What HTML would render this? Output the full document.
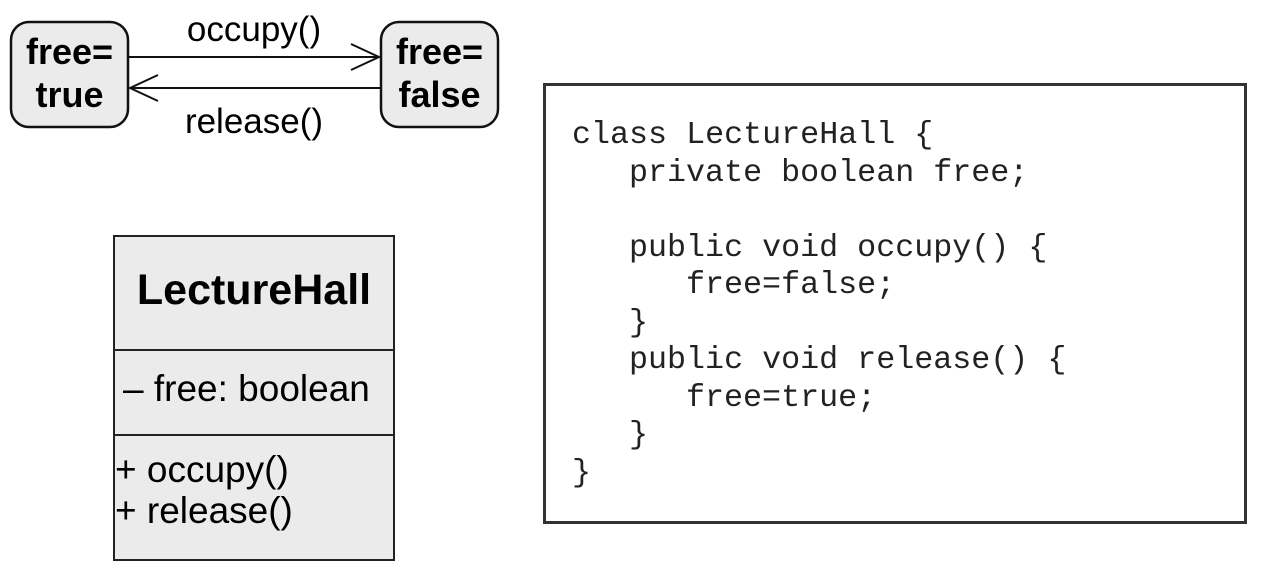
<!DOCTYPE html>
<html><head><meta charset="utf-8"><style>
html,body{margin:0;padding:0;background:#fff;}
svg{display:block;}
</style></head><body>
<svg width="1264" height="571" xmlns="http://www.w3.org/2000/svg">
<g font-family="Liberation Sans, Arial, sans-serif" fill="#000">
<rect x="11" y="22" width="117" height="105" rx="18" fill="#ebebeb" stroke="#111" stroke-width="2.5"/>
<rect x="381" y="22" width="117" height="105" rx="18" fill="#ebebeb" stroke="#111" stroke-width="2.5"/>
<text x="69.5" y="64" font-size="36" font-weight="bold" text-anchor="middle">free=</text>
<text x="69.5" y="107" font-size="36" font-weight="bold" text-anchor="middle">true</text>
<text x="439.5" y="64" font-size="36" font-weight="bold" text-anchor="middle">free=</text>
<text x="439.5" y="107" font-size="36" font-weight="bold" text-anchor="middle">false</text>
<line x1="129" y1="57" x2="379" y2="57" stroke="#111" stroke-width="2"/>
<polyline points="351,44 379,57 351,70" fill="none" stroke="#111" stroke-width="2"/>
<line x1="130" y1="88" x2="380" y2="88" stroke="#111" stroke-width="2"/>
<polyline points="158,75 130,88 158,101" fill="none" stroke="#111" stroke-width="2"/>
<text x="254" y="41" font-size="35" text-anchor="middle">occupy()</text>
<text x="254" y="133" font-size="35" text-anchor="middle">release()</text>

<rect x="114" y="236" width="280" height="324" fill="#ebebeb" stroke="#222" stroke-width="2"/>
<line x1="114" y1="350" x2="394" y2="350" stroke="#222" stroke-width="2"/>
<line x1="114" y1="435" x2="394" y2="435" stroke="#222" stroke-width="2"/>
<text x="254" y="304" font-size="43" font-weight="bold" text-anchor="middle">LectureHall</text>
<text x="123" y="401" font-size="37">– free: boolean</text>
<text x="115" y="482" font-size="37">+ occupy()</text>
<text x="115" y="523" font-size="37">+ release()</text>
</g>
<rect x="544.5" y="84.5" width="701" height="438" fill="#fff" stroke="#333" stroke-width="3"/>
<g font-family="Liberation Mono, Courier New, monospace" font-size="31.7" fill="#222">
<text x="572" y="143">class LectureHall {</text>
<text x="629" y="181">private boolean free;</text>
<text x="629" y="256">public void occupy() {</text>
<text x="686" y="293">free=false;</text>
<text x="629" y="331">}</text>
<text x="629" y="368">public void release() {</text>
<text x="686" y="406">free=true;</text>
<text x="629" y="443">}</text>
<text x="572" y="481">}</text>
</g>
</svg>
</body></html>
